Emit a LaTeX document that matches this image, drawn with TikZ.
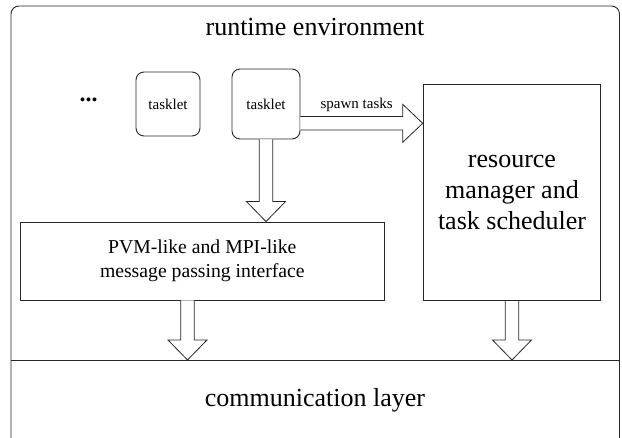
\documentclass[tikz,border=0pt]{standalone}
\usepackage{fontspec}
\setmainfont{Liberation Serif}
\usetikzlibrary{calc}

\tikzset{
  frame/.style={draw=black!85, line width=0.9pt},
  taskbox/.style={frame, rounded corners=8pt, inner sep=0pt, font=\fontsize{15}{18}\selectfont},
  block/.style={frame, inner sep=0pt, align=center},
  fatarrow/.style={draw=black!85, line width=0.8pt, fill=white, line join=miter},
  bigtext/.style={font=\fontsize{26}{31}\selectfont},
}

% hollow block arrow pointing down, from #1 to the tip #2 (same x)
\newcommand\hollowdown[2]{%
  \draw[fatarrow] ($(#1)+(-6.7,0)$) -- ($(#2)+(-6.7,-20)$) -- ($(#2)+(-19.5,-20)$)
    -- (#2) -- ($(#2)+(19.5,-20)$) -- ($(#2)+(6.7,-20)$) -- ($(#1)+(6.7,0)$);}

\begin{document}
\begin{tikzpicture}[x=1pt, y=-1pt]
  \useasboundingbox (0,0) rectangle (622,438);

  % runtime environment frame, open at the bottom
  \draw[frame, rounded corners=8pt] (11,440) -- (11,6) -- (619.5,6) -- (619.5,440);
  \coordinate (sepL) at (11,360);
  \coordinate (sepR) at (619.5,360);
  \draw[frame] (sepL) -- (sepR);

  \node[bigtext] (title) at (315,27) {runtime environment};
  \node[bigtext] (comm) at (315,400) {communication layer};

  \node[font=\fontsize{24}{24}\selectfont] (dots) at (88.5,100) {\textbf{...}};

  \node[taskbox, minimum width=64pt, minimum height=64pt] (t1) at (168,104) {tasklet};
  \node[taskbox, minimum width=68pt, minimum height=70pt] (t2) at (266,104) {tasklet};

  \node[block, bigtext, minimum width=177.7pt, minimum height=216pt] (rm) at (512,192.7)
    {resource\\manager and\\task scheduler};
  \node[block, font=\fontsize{19.7}{23.5}\selectfont, minimum width=363.3pt, minimum height=78pt]
    (pvm) at (202.3,261) {PVM-like and MPI-like\\message passing interface};

  % spawn arrow from the tasklet to the resource manager
  \coordinate (sp) at ($(t2.east)+(0,19.3)$);
  \coordinate (sptip) at (rm.west |- sp);
  \draw[fatarrow] ($(sp)+(0,-6.7)$) -- ($(sptip)+(-20,-6.7)$) -- ($(sptip)+(-20,-19)$)
    -- (sptip) -- ($(sptip)+(-20,19)$) -- ($(sptip)+(-20,6.7)$) -- ($(sp)+(0,6.7)$);
  \node[font=\fontsize{15}{18}\selectfont] (spawn) at (356.7,105) {spawn tasks};

  % tasklet down to the message passing interface
  \coordinate (t2start) at (t2.south);
  \coordinate (t2tip) at (pvm.north -| t2start);
  \hollowdown{t2start}{t2tip}

  % both blocks down to the communication layer
  \coordinate (pvmtip) at (187.5,360);
  \coordinate (pvmstart) at (pvm.south -| pvmtip);
  \hollowdown{pvmstart}{pvmtip}
  \coordinate (rmstart) at (rm.south);
  \coordinate (rmtip) at (sepL -| rmstart);
  \hollowdown{rmstart}{rmtip}
\end{tikzpicture}
\end{document}
